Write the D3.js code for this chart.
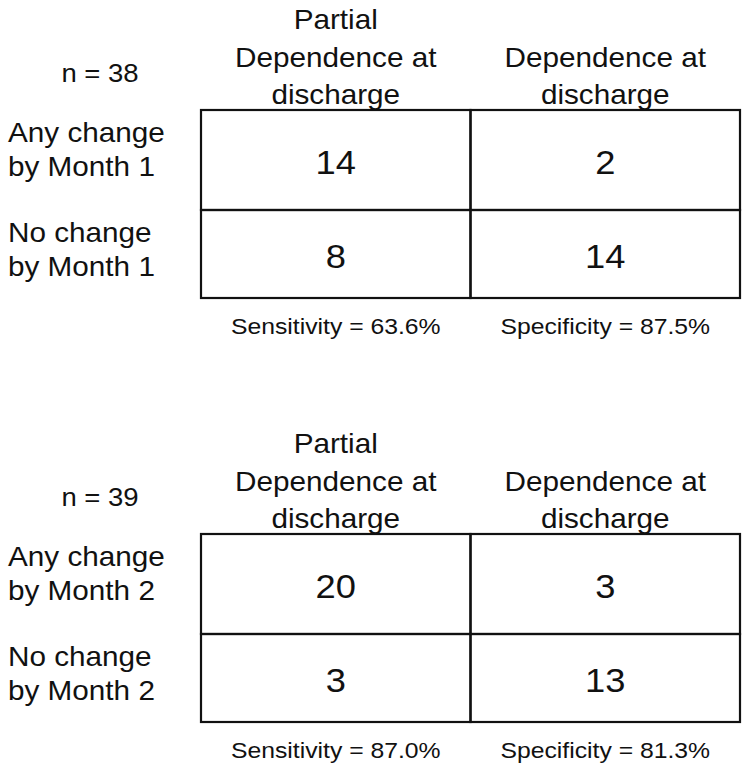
<!DOCTYPE html>
<html>
<head>
<meta charset="utf-8">
<script src="https://cdn.jsdelivr.net/npm/d3@7"></script>
<style>
  body { margin: 0; background: #fff; }
  text { font-family: "Liberation Sans", Arial, Helvetica, sans-serif; fill: #111; }
</style>
</head>
<body>
<div id="chart"></div>
<script>
// Data
const columnHeaders = [["Partial", "Dependence at", "discharge"], ["Dependence at", "discharge"]];
const rowLabels1 = [["Any change", "by Month 1"], ["No change", "by Month 1"]];
const rowLabels2 = [["Any change", "by Month 2"], ["No change", "by Month 2"]];
const counts1 = [[14, 2], [8, 14]];
const counts2 = [[20, 3], [3, 13]];
const nLabels = ["n = 38", "n = 39"];
const sensitivity = ["63.6%", "87.0%"];
const specificity = ["87.5%", "81.3%"];

const tables = [
  { n: nLabels[0], rows: rowLabels1, counts: counts1, sens: sensitivity[0], spec: specificity[0] },
  { n: nLabels[1], rows: rowLabels2, counts: counts2, sens: sensitivity[1], spec: specificity[1] }
];

// Dimensions
const width = 750, height = 769;
const tableTop = [110, 534];
const rowEdges = [0, 100, 188];
const stretch = 1.1;   // glyphs in the reference are slightly wide

const svg = d3.select('#chart').append('svg')
  .attr('width', width)
  .attr('height', height);

// Scales
const xScale = d3.scaleBand()
  .domain([0, 1])
  .range([201, 740]);

const yScale = d3.scaleOrdinal()
  .domain([0, 1, 2])
  .range(rowEdges);

function addText(g, str, x, y, size, anchor) {
  g.append('text')
    .attr('transform', `translate(${x}, ${y}) scale(${stretch}, 1)`)
    .attr('text-anchor', anchor || 'middle')
    .style('font-size', size + 'px')
    .text(str);
}

tables.forEach(function(t, ti) {
  const g = svg.append('g')
    .attr('transform', `translate(0, ${tableTop[ti]})`);

  // column headers, bottom aligned
  columnHeaders.forEach(function(lines, ci) {
    const cx = xScale(ci) + xScale.bandwidth() / 2;
    lines.forEach(function(line, li) {
      const fromBottom = lines.length - 1 - li;
      addText(g, line, cx, -6 - fromBottom * 37.5, 27);
    });
  });

  addText(g, t.n, 100, -28, 25);

  // cells
  t.counts.forEach(function(row, ri) {
    const y0 = yScale(ri), y1 = yScale(ri + 1);
    row.forEach(function(v, ci) {
      g.append('rect')
        .attr('x', xScale(ci))
        .attr('y', y0)
        .attr('width', xScale.bandwidth())
        .attr('height', y1 - y0)
        .attr('fill', 'none')
        .attr('stroke', '#111')
        .attr('stroke-width', 2.2);
      addText(g, v, xScale(ci) + xScale.bandwidth() / 2, (y0 + y1) / 2 + 14, 33);
    });

    // row labels
    t.rows[ri].forEach(function(line, li) {
      addText(g, line, 8, y0 + 32 + li * 33.5, 27, 'start');
    });
  });

  // statistics
  const yStat = rowEdges[2] + 36;
  addText(g, `Sensitivity = ${t.sens}`, xScale(0) + xScale.bandwidth() / 2, yStat, 22.5);
  addText(g, `Specificity = ${t.spec}`, xScale(1) + xScale.bandwidth() / 2, yStat, 22.5);
});
</script>
</body>
</html>
